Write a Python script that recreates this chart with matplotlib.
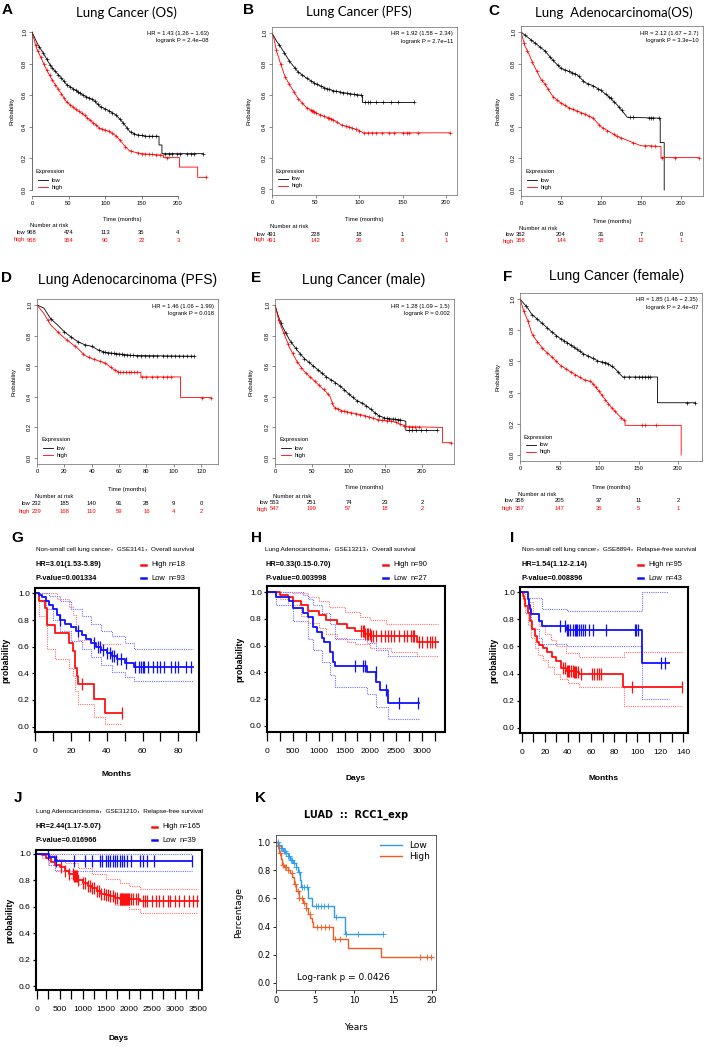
import numpy as np
import matplotlib
matplotlib.use('Agg')
import matplotlib.pyplot as plt
from matplotlib.lines import Line2D
from matplotlib import font_manager

W, H = 709, 1047

# ---------------- KM-plotter panels A-F (months) ----------------
# A  Lung Cancer (OS)
a_low_t = [0, 3, 6, 10, 15, 20, 25, 30, 40, 47, 60, 70, 84, 93, 106, 115, 124, 134, 143, 157, 174, 174, 178, 178, 234]
a_low_s = [1, .97, .94, .905, .87, .83, .79, .76, .71, .67, .63, .60, .57, .53, .50, .475, .43, .37, .35, .34, .34, .285, .285, .23, .23]
a_low_c = [10, 15, 20, 25, 28, 32, 36, 40, 44, 48, 52, 56, 60, 63, 66, 70, 74, 78, 82, 86, 90, 95, 100, 105, 110,
           115, 120, 125, 130, 135, 140, 145, 150, 155, 160, 165, 170, 182, 188, 192, 198, 203, 212, 218, 222, 234]
a_high_t = [0, 3, 6, 10, 15, 20, 26, 30, 40, 47, 60, 70, 80, 93, 106, 116, 125, 133, 140, 150, 180, 180, 202, 202, 227, 227, 239]
a_high_s = [1, .95, .90, .86, .81, .76, .71, .68, .61, .56, .51, .48, .44, .39, .37, .34, .29, .25, .24, .23, .22, .205, .205, .145, .145, .08, .08]
a_high_c = [5, 8, 12, 16, 20, 24, 28, 32, 36, 40, 44, 48, 52, 56, 60, 64, 68, 72, 76, 80, 84, 88, 92, 96, 100, 105,
            110, 115, 120, 128, 135, 145, 150, 155, 160, 165, 170, 175, 185, 239]
a_nar_low = [968, 474, 113, 35, 4]
a_nar_high = [958, 354, 90, 22, 3]

# B  Lung Cancer (PFS)
b_low_t = [0, 2, 5, 10, 20, 30, 40, 50, 60, 70, 80, 90, 104, 104, 163]
b_low_s = [1, .98, .95, .91, .82, .75, .71, .675, .65, .63, .62, .61, .60, .555, .555]
b_low_c = [8, 14, 20, 26, 30, 35, 40, 45, 48, 52, 56, 60, 63, 66, 70, 74, 78, 82, 86, 90, 94, 98, 102, 107, 110,
           113, 120, 128, 137, 145, 163]
b_high_t = [0, 2, 5, 10, 15, 20, 30, 40, 50, 60, 70, 80, 90, 100, 105, 205]
b_high_s = [1, .97, .89, .80, .72, .67, .58, .52, .49, .465, .445, .41, .395, .375, .36, .36]
b_high_c = [5, 10, 15, 20, 25, 30, 35, 40, 45, 46, 47, 48, 50, 55, 60, 64, 66, 68, 70, 75, 80, 85, 88, 92, 96, 100,
            106, 110, 115, 120, 127, 135, 140, 150, 155, 158, 168, 205]
b_nar_low = [491, 228, 18, 1, 0]
b_nar_high = [491, 142, 26, 8, 1]

# C  Lung Adenocarcinoma (OS)
c_low_t = [0, 10, 20, 30, 40, 50, 60, 70, 80, 90, 100, 110, 120, 125, 133, 174, 174, 179, 179]
c_low_s = [1, .96, .92, .88, .82, .77, .75, .73, .68, .66, .63, .59, .54, .51, .46, .455, .30, .30, 0]
c_low_c = [5, 12, 18, 24, 30, 36, 40, 46, 50, 55, 60, 64, 68, 72, 78, 84, 90, 96, 100, 106, 110, 112, 116, 122, 126,
           136, 140, 160, 162, 165, 173]
c_high_t = [0, 5, 10, 15, 20, 25, 30, 40, 50, 60, 70, 80, 90, 100, 110, 120, 130, 140, 150, 160, 175, 175, 222]
c_high_s = [1, .91, .86, .80, .75, .70, .67, .59, .55, .52, .50, .48, .455, .40, .37, .34, .32, .30, .28, .28, .275, .205, .205]
c_high_c = [4, 8, 14, 20, 26, 30, 34, 40, 45, 50, 55, 60, 65, 70, 75, 80, 85, 90, 98, 102, 108, 116, 120, 125, 140,
            155, 162, 168, 176, 193, 222]
c_nar_low = [362, 204, 31, 7, 0]
c_nar_high = [358, 144, 38, 12, 1]

# D  Lung Adenocarcinoma (PFS)
d_low_t = [0, 5, 10, 15, 20, 25, 30, 35, 40, 45, 50, 60, 70, 115]
d_low_s = [1, .98, .91, .87, .825, .79, .76, .74, .73, .705, .69, .68, .67, .665]
d_low_c = [10, 20, 25, 30, 35, 40, 45, 48, 50, 52, 54, 56, 58, 60, 62, 64, 66, 68, 70, 73, 76, 79, 82, 85, 88, 92,
           95, 98, 101, 104, 107, 110, 113, 115]
d_high_t = [0, 5, 10, 15, 20, 25, 30, 35, 40, 45, 50, 55, 60, 76, 76, 105, 105, 127]
d_high_s = [1, .945, .87, .825, .785, .75, .715, .67, .65, .635, .62, .585, .56, .56, .53, .53, .395, .395]
d_high_c = [8, 15, 22, 28, 34, 38, 42, 46, 50, 54, 57, 59, 61, 63, 65, 67, 69, 71, 73, 77, 80, 84, 88, 92, 95, 98,
            121, 127]
d_nar_low = [232, 185, 140, 91, 28, 9, 0]
d_nar_high = [229, 168, 110, 59, 16, 4, 2]

# E  Lung Cancer (male)
e_low_t = [0, 5, 10, 20, 30, 40, 50, 60, 70, 80, 90, 100, 110, 120, 130, 140, 150, 170, 178, 178, 220]
e_low_s = [1, .92, .86, .77, .705, .65, .61, .57, .53, .50, .465, .42, .38, .355, .32, .28, .26, .25, .24, .18, .18]
e_low_c = [8, 15, 22, 28, 34, 40, 46, 52, 58, 64, 70, 76, 82, 88, 94, 100, 106, 112, 118, 124, 130, 136, 142, 148,
           152, 155, 160, 163, 167, 170, 182, 186, 192, 198, 205, 220]
e_high_t = [0, 5, 10, 20, 30, 40, 50, 60, 70, 75, 80, 90, 100, 120, 140, 160, 180, 228, 228, 240]
e_high_s = [1, .90, .84, .72, .63, .565, .52, .475, .43, .40, .335, .31, .30, .28, .25, .24, .205, .20, .10, .10]
e_high_c = [5, 12, 18, 24, 30, 36, 42, 48, 54, 60, 66, 72, 78, 82, 86, 90, 94, 98, 104, 110, 116, 122, 128, 134,
            140, 146, 152, 158, 164, 170, 176, 182, 186, 190, 196, 240]
e_nar_low = [553, 251, 74, 23, 2]
e_nar_high = [547, 199, 57, 18, 2]

# F  Lung Cancer (female)
f_low_t = [0, 5, 10, 15, 20, 30, 40, 50, 60, 70, 80, 90, 100, 110, 120, 130, 174, 174, 222]
f_low_s = [1, .97, .94, .90, .88, .835, .79, .75, .72, .685, .65, .625, .60, .59, .555, .50, .50, .335, .335]
f_low_c = [8, 15, 22, 28, 34, 40, 46, 52, 56, 60, 64, 68, 72, 76, 80, 86, 92, 98, 104, 108, 112, 116, 124, 132,
           138, 145, 150, 155, 158, 162, 165, 212, 222]
f_high_t = [0, 5, 10, 15, 20, 30, 40, 50, 60, 70, 80, 90, 95, 100, 110, 120, 130, 133, 133, 204, 204]
f_high_s = [1, .92, .86, .78, .74, .675, .63, .58, .545, .515, .485, .47, .44, .41, .34, .28, .23, .22, .19, .19, 0]
f_high_c = [5, 10, 16, 22, 28, 34, 40, 46, 52, 58, 64, 70, 76, 82, 88, 92, 96, 100, 104, 108, 112, 116, 120, 128,
            132, 155, 158, 172]
f_nar_low = [358, 205, 37, 11, 2]
f_nar_high = [357, 147, 35, 5, 1]

# ---------------- PrognoScan panels G-J (step functions) ----------------
g_high_t = [0, 2, 5.5, 6.5, 11, 19, 21, 22.5, 23.3, 24.2, 33, 39, 48.6]
g_high_s = [1, .94, .89, .76, .70, .63, .57, .44, .38, .32, .21, .105, .105]
g_high_up_t = [0, 12, 19, 21, 23, 24.2, 33, 48.6]
g_high_up_s = [1, .96, .90, .84, .74, .65, .62, .62]
g_high_lo_t = [0, 2, 6.5, 11, 19, 21, 22.5, 24.2, 33, 39, 48.6]
g_high_lo_s = [1, .83, .58, .51, .44, .38, .27, .17, .07, .02, .02]
g_high_c = [26.3, 48.6]
g_low_t = [0, 2, 4, 6, 8, 10, 12, 14, 17, 20, 23, 26, 28.5, 31, 34, 37, 40, 43, 46, 50, 55, 88]
g_low_s = [1, .99, .97, .94, .91, .88, .84, .80, .77, .75, .72, .69, .66, .63, .60, .575, .55, .53, .51, .48, .45, .45]
g_low_up_t = [0, 8, 14, 20, 26, 31, 37, 43, 50, 55, 88]
g_low_up_s = [1, .98, .94, .88, .83, .77, .72, .68, .63, .58, .58]
g_low_lo_t = [0, 2, 6, 10, 14, 20, 26, 31, 37, 43, 50, 55, 88]
g_low_lo_s = [1, .95, .88, .80, .72, .64, .58, .52, .46, .41, .37, .34, .34]
g_low_c = [14, 24, 33, 35, 36, 38, 40, 42, 43, 44, 46, 48, 51, 56, 58, 59, 60, 61, 63, 66, 68, 70, 72, 76, 78, 80, 84, 87]

h_high_t = [0, 260, 400, 500, 650, 800, 1000, 1150, 1350, 1550, 1700, 1900, 2000, 2900, 3300]
h_high_s = [1, .98, .96, .93, .90, .86, .83, .79, .76, .73, .71, .69, .675, .63, .63]
h_high_up_t = [0, 500, 800, 1000, 1200, 1500, 1800, 2000, 2300, 3300]
h_high_up_s = [1, .99, .96, .93, .89, .85, .81, .79, .76, .76]
h_high_lo_t = [0, 260, 400, 650, 800, 1000, 1150, 1350, 1550, 1700, 2000, 2400, 2900, 3300]
h_high_lo_s = [1, .95, .90, .82, .77, .73, .69, .66, .63, .61, .58, .55, .52, .52]
h_high_c = [1820, 1850, 1880, 1900, 1930, 1960, 1990, 2020, 2050, 2100, 2200, 2280, 2350, 2400, 2450, 2550, 2650,
            2700, 2780, 2820, 2850, 2950, 3000, 3100, 3150, 3200, 3250]
h_low_t = [0, 180, 420, 500, 700, 790, 890, 960, 1070, 1110, 1210, 1280, 1320, 1930, 2115, 2180, 2340, 2950]
h_low_s = [1, .96, .93, .88, .84, .81, .74, .70, .66, .63, .55, .48, .45, .40, .33, .27, .17, .17]
h_low_up_t = [0, 700, 790, 890, 1070, 1210, 1320, 1930, 2115, 2340, 2950]
h_low_up_s = [1, .98, .95, .90, .84, .76, .65, .62, .57, .52, .52]
h_low_lo_t = [0, 180, 500, 790, 890, 1070, 1210, 1320, 1930, 2115, 2340, 2950]
h_low_lo_s = [1, .90, .78, .65, .57, .48, .38, .29, .24, .14, .05, .05]
h_low_c = [1700, 1850, 1900, 2100, 2300, 2550, 2930]

i_high_t = [0, 1, 2, 3, 5, 7, 9, 11, 13, 15, 18, 22, 26, 30, 34, 38, 45, 50, 88, 139]
i_high_s = [1, .97, .95, .90, .85, .79, .73, .68, .63, .61, .59, .56, .52, .49, .44, .42, .41, .40, .30, .30]
i_high_up_t = [0, 2, 5, 10, 15, 20, 25, 30, 38, 50, 89, 139]
i_high_up_s = [1, .99, .93, .85, .75, .69, .65, .60, .55, .52, .56, .56]
i_high_lo_t = [0, 3, 5, 8, 11, 14, 18, 23, 28, 33, 40, 50, 89, 139]
i_high_lo_s = [1, .85, .76, .66, .59, .54, .50, .45, .40, .36, .33, .30, .16, .16]
i_high_c = [36, 37, 39, 40, 41, 43, 44, 45, 46, 47, 49, 51, 61, 63, 65, 67, 69, 96, 139]
i_low_t = [0, 5, 6, 7, 8, 15, 17, 38, 104, 128]
i_low_s = [1, .95, .91, .88, .84, .79, .75, .72, .48, .48]
i_low_up_t = [0, 4, 17, 39, 104, 127]
i_low_up_s = [1, .96, .88, .86, 1.0, 1.0]
i_low_lo_t = [0, 5, 8, 15, 17, 39, 104, 128]
i_low_lo_s = [1, .86, .73, .66, .62, .60, .21, .21]
i_low_c = [33, 37, 39, 40, 42, 44, 46, 47, 48, 50, 51, 53, 55, 58, 62, 73, 98, 99, 101, 121, 124]

j_high_t = [0, 100, 200, 300, 400, 500, 600, 700, 800, 900, 1000, 1100, 1200, 1300, 1400, 1500, 1600, 1700, 1800, 2250, 3500]
j_high_s = [1, .99, .97, .94, .92, .90, .87, .85, .83, .80, .78, .76, .74, .72, .70, .69, .68, .67, .66, .645, .645]
j_high_up_t = [0, 200, 400, 600, 900, 1200, 1500, 1800, 2000, 2250, 3500]
j_high_up_s = [1, .99, .96, .93, .89, .85, .81, .78, .76, .735, .735]
j_high_lo_t = [0, 100, 250, 400, 700, 900, 1100, 1400, 1700, 2000, 2250, 3500]
j_high_lo_s = [1, .97, .92, .88, .82, .77, .72, .66, .61, .58, .555, .555]
j_high_c = [520, 600, 700, 780, 800, 820, 850, 870, 900, 1000, 1050, 1100, 1150, 1200, 1250, 1300, 1350, 1400, 1450,
            1500, 1550, 1600, 1650, 1700, 1750, 1800, 1820, 1840, 1860, 1880, 1900, 1920, 1940, 1960, 1980, 2000,
            2050, 2100, 2150, 2200, 2300, 2350, 2400, 2500, 2600, 2650, 2750, 2850, 2900, 3000, 3100, 3200, 3300,
            3400, 3480]
j_low_t = [0, 260, 400, 3370]
j_low_s = [1, .975, .95, .95]
j_low_up_t = [0, 3370]
j_low_up_s = [1, 1]
j_low_lo_t = [0, 260, 400, 3370]
j_low_lo_s = [1, .92, .87, .87]
j_low_c = [250, 420, 800, 1050, 1200, 1370, 1420, 1500, 1550, 1600, 1650, 1700, 1750, 1800, 1850, 1900, 1950, 2050,
           2250, 2300, 2400, 2550, 3370]

# ---------------- K  LUAD :: RCC1_exp (years) ----------------
k_low_t = [0, .3, .6, .9, 1.2, 1.5, 1.8, 2.2, 2.6, 2.8, 3.1, 3.2, 4.1, 4.6, 7.4, 8.8, 13.7]
k_low_s = [1, .98, .96, .94, .92, .90, .87, .85, .82, .79, .73, .68, .60, .545, .47, .35, .35]
k_low_c = [.2, .4, .6, .8, 1.0, 1.1, 1.3, 1.5, 1.7, 1.9, 2.1, 2.3, 2.6, 2.9, 3.3, 3.6, 4.0, 5.1, 5.4, 5.8, 6.2, 6.6,
           7.7, 9.0, 10.5, 13.7]
k_high_t = [0, .2, .4, .6, .8, 1.0, 1.5, 1.8, 2.1, 2.3, 2.6, 2.9, 3.4, 3.8, 4.1, 4.4, 4.6, 4.8, 7.3, 9.2, 13.5, 20.1]
k_high_s = [1, .97, .92, .88, .84, .82, .80, .78, .75, .70, .65, .60, .565, .53, .49, .46, .43, .40, .31, .245, .185, .185]
k_high_c = [.3, .5, .9, 1.1, 1.3, 1.6, 2.0, 2.4, 2.8, 3.0, 3.3, 3.6, 3.9, 4.3, 5.3, 5.8, 6.3, 6.8, 7.6, 8.2, 18.5,
            19.3, 19.8]

prob_ticks = [0.0, 0.2, 0.4, 0.6, 0.8, 1.0]

# ---------------- figure helpers ----------------
fig = plt.figure(figsize=(W / 100, H / 100), dpi=100)
installed = {f.name for f in font_manager.fontManager.ttflist}
NARROW = 'Liberation Sans Narrow' if 'Liberation Sans Narrow' in installed else 'Liberation Sans'
RF = 'Liberation Sans'


def px_axes(l, t, r, b):
    return fig.add_axes([l / W, 1 - b / H, (r - l) / W, (b - t) / H])


def ftext(x, y, s, **kw):
    kw.setdefault('ha', 'center')
    kw.setdefault('va', 'center')
    return fig.text(x / W, 1 - y / H, s, **kw)


def fline(x0, x1, y, **kw):
    fig.add_artist(Line2D([x0 / W, x1 / W], [1 - y / H] * 2, **kw))


def step_val(t, s, c):
    idx = np.searchsorted(t, c, side='right') - 1
    return np.asarray(s)[idx]


def kmplot_panel(x0, xr, scale, y1, y0, xticks, low, high, nar, hr, p, rows, ylab_x, box=True):
    pad = 0.04 * (y0 - y1)
    ax = px_axes(x0, y1 - pad, xr, y0 + pad)
    ax.set_xlim(0, (xr - x0) / scale)
    ax.set_ylim(-0.04, 1.04)
    for (t, s, c), col in ((low, 'black'), (high, 'red')):
        ax.plot(t, s, color=col, lw=0.6)
        ax.plot(c, np.interp(c, t, s), ls='none', marker='+', ms=3.0, mew=0.45, color=col, clip_on=False)
    ax.set_xticks(xticks)
    ax.set_yticks(prob_ticks)
    ax.set_yticklabels([f'{v:.1f}' for v in prob_ticks], rotation=90, va='center')
    ax.tick_params(labelsize=4.2, length=2, width=0.4, pad=1.5, color='#333333')
    for lab in ax.get_xticklabels() + ax.get_yticklabels():
        lab.set_family(RF)
    for sp in ax.spines.values():
        sp.set_linewidth(0.5)
        sp.set_color('#666666')
    if not box:
        # plain R axes: lines only over the tick range, no frame
        ax.spines['top'].set_visible(False)
        ax.spines['right'].set_visible(False)
        ax.spines['left'].set_bounds(0, 1)
        ax.spines['bottom'].set_bounds(xticks[0], xticks[-1])
        ax.spines['left'].set_color('#333333')
        ax.spines['bottom'].set_color('#333333')
    # HR text
    ftext(xr - 4, y1 + 1, hr, ha='right', fontsize=4.2, family=RF)
    ftext(xr - 4, y1 + 8.5, p, ha='right', fontsize=4.2, family=RF)
    # legend
    ftext(x0 + 4, y0 - 18, 'Expression', ha='left', fontsize=4.2, family=RF)
    fline(x0 + 6, x0 + 16, y0 - 10, color='black', lw=0.6)
    fline(x0 + 6, x0 + 16, y0 - 3, color='red', lw=0.6)
    ftext(x0 + 20, y0 - 10, 'low', ha='left', fontsize=4.2, family=RF)
    ftext(x0 + 20, y0 - 3, 'high', ha='left', fontsize=4.2, family=RF)
    # axis labels
    ftext((x0 + xr) / 2, rows[0], 'Time (months)', fontsize=4.3, family=RF)
    ftext(ylab_x, (y1 + y0) / 2, 'Probability', rotation=90, fontsize=4.3, family=RF)
    # number at risk
    ftext(x0 - 2, rows[1], 'Number at risk', ha='left', fontsize=4.2, family=RF)
    ftext(x0 - 7, rows[2], 'low', ha='right', fontsize=4.2, family=RF)
    ftext(x0 - 7, rows[3], 'high', ha='right', fontsize=4.2, family=RF, color='red')
    for tk, nl, nh in zip(xticks, nar[0], nar[1]):
        ftext(x0 + tk * scale, rows[2], str(nl), fontsize=4.2, family=RF)
        ftext(x0 + tk * scale, rows[3], str(nh), fontsize=4.2, family=RF, color='red')
    return ax


def prognoscan_panel(box, xlim, ylim, xticks, xminor, high, low, title, text_x, top_y, hr, pv, nh, nl, leg_x,
                     xlabel, xlabel_y, ylab_x):
    l, t, r, b = box
    ax = px_axes(l, t, r, b)
    ax.set_xlim(*xlim)
    ax.set_ylim(*ylim)
    styles = ((high, '#ff1010', '#ff7070'), (low, '#1010ff', '#7070ff'))
    for (ct, cs, ut, us, lt, ls_, cens), col, cicol in styles:
        ax.plot(ut, us, drawstyle='steps-post', color=cicol, lw=0.8, ls=(0, (1, 1)))
        ax.plot(lt, ls_, drawstyle='steps-post', color=cicol, lw=0.8, ls=(0, (1, 1)))
    for (ct, cs, ut, us, lt, ls_, cens), col, cicol in styles:
        ax.plot(ct, cs, drawstyle='steps-post', color=col, lw=1.3)
        ax.plot(cens, step_val(ct, cs, cens), ls='none', marker='|', ms=8, mew=0.9, color=col)
    ax.set_xticks(xticks)
    ax.set_xticks(xminor, minor=True)
    ax.set_yticks(prob_ticks)
    ax.set_yticklabels([f'{v:.1f}' for v in prob_ticks])
    ax.tick_params(axis='x', which='both', length=6.5, width=0.9, pad=5, labelsize=6.0)
    ax.tick_params(axis='y', length=2.5, width=0.9, pad=1.2, labelsize=6.0)
    for lab in ax.get_xticklabels() + ax.get_yticklabels():
        lab.set_family(NARROW)
    for sp in ax.spines.values():
        sp.set_linewidth(1.5)
    fam = [NARROW, 'Noto Sans CJK SC']
    ftext(text_x, top_y, title, ha='left', fontsize=4.6, family=fam)
    ftext(text_x, top_y + 15, hr, ha='left', fontsize=5.3, family=fam, weight='bold')
    ftext(text_x, top_y + 28, pv, ha='left', fontsize=5.3, family=fam, weight='bold')
    fline(leg_x - 2.5, leg_x + 2.5, top_y + 15, color='#ff1010', lw=1.8)
    fline(leg_x - 2.5, leg_x + 2.5, top_y + 28, color='#1010ff', lw=1.8)
    ftext(leg_x + 8, top_y + 15, 'High', ha='left', fontsize=5.4, family=fam)
    ftext(leg_x + 8, top_y + 28, 'Low', ha='left', fontsize=5.4, family=fam)
    ftext(leg_x + 26, top_y + 15, f'n={nh}', ha='left', fontsize=5.4, family=fam)
    ftext(leg_x + 26, top_y + 28, f'n={nl}', ha='left', fontsize=5.4, family=fam)
    ftext((l + r) / 2, xlabel_y, xlabel, fontsize=6.0, family=NARROW, weight='bold')
    ftext(ylab_x, (t + b) / 2, 'probability', rotation=90, fontsize=6.3, family=RF, weight='bold')
    return ax


# ---------------- panels A-F ----------------
mticks200 = [0, 50, 100, 150, 200]
kmplot_panel(32, 213, 0.73, 32, 190, mticks200, (a_low_t, a_low_s, a_low_c), (a_high_t, a_high_s, a_high_c),
             (a_nar_low, a_nar_high), 'HR = 1.43 (1.26 \u2212 1.63)', 'logrank P = 2.4e\u221208',
             (219, 226, 233, 240), 12, box=False)
kmplot_panel(272, 457, 0.87, 33, 189, mticks200, (b_low_t, b_low_s, b_low_c), (b_high_t, b_high_s, b_high_c),
             (b_nar_low, b_nar_high), 'HR = 1.92 (1.58 \u2212 2.34)', 'logrank P = 2.7e\u221211',
             (220, 227, 234, 240), 249)
kmplot_panel(521, 703, 0.8, 32, 190, mticks200, (c_low_t, c_low_s, c_low_c), (c_high_t, c_high_s, c_high_c),
             (c_nar_low, c_nar_high), 'HR = 2.12 (1.67 \u2212 2.7)', 'logrank P = 3.3e\u221210',
             (221, 229, 235, 241), 498)
kmplot_panel(37, 218, 1.367, 305, 458, [0, 20, 40, 60, 80, 100, 120], (d_low_t, d_low_s, d_low_c),
             (d_high_t, d_high_s, d_high_c), (d_nar_low, d_nar_high), 'HR = 1.46 (1.06 \u2212 1.99)',
             'logrank P = 0.018', (490, 497, 504, 511), 14)
kmplot_panel(275, 454, 0.735, 305, 458, mticks200, (e_low_t, e_low_s, e_low_c), (e_high_t, e_high_s, e_high_c),
             (e_nar_low, e_nar_high), 'HR = 1.28 (1.09 \u2212 1.5)', 'logrank P = 0.002',
             (488, 496, 503, 509), 251)
kmplot_panel(520, 702, 0.79, 299, 455, mticks200, (f_low_t, f_low_s, f_low_c), (f_high_t, f_high_s, f_high_c),
             (f_nar_low, f_nar_high), 'HR = 1.85 (1.46 \u2212 2.35)', 'logrank P = 2.4e\u221207',
             (487, 494, 501, 508), 498)

ftext(126, 13, 'Lung Cancer (OS)', fontsize=9.5, family='Lato')
ftext(359, 12, 'Lung Cancer (PFS)', fontsize=9.5, family='Lato')
ftext(614, 13, 'Lung  Adenocarcinoma(OS)', fontsize=9.5, family='Lato')
ftext(128, 280, 'Lung Adenocarcinoma (PFS)', fontsize=10, family=RF)
ftext(364, 280, 'Lung Cancer (male)', fontsize=10, family=RF)
ftext(617, 276, 'Lung Cancer (female)', fontsize=10, family=RF)

# ---------------- panels G-J ----------------
prognoscan_panel((35, 588, 199, 732), (0, 91.5), (-0.04, 1.04), [0, 20, 40, 60, 80], [10, 30, 50, 70, 90],
                 (g_high_t, g_high_s, g_high_up_t, g_high_up_s, g_high_lo_t, g_high_lo_s, g_high_c),
                 (g_low_t, g_low_s, g_low_up_t, g_low_up_s, g_low_lo_t, g_low_lo_s, g_low_c),
                 'Non-small cell lung cancer\uff0cGSE3141\uff0cOverall survival', 36, 550,
                 'HR=3.01(1.53-5.89)', 'P-value=0.001334', 18, 93, 143, 'Months', 775, 6)
prognoscan_panel((267, 586, 445, 732), (0, 3445), (-0.045, 1.045), [0, 500, 1000, 1500, 2000, 2500, 3000],
                 [250, 750, 1250, 1750, 2250, 2750, 3250],
                 (h_high_t, h_high_s, h_high_up_t, h_high_up_s, h_high_lo_t, h_high_lo_s, h_high_c),
                 (h_low_t, h_low_s, h_low_up_t, h_low_up_s, h_low_lo_t, h_low_lo_s, h_low_c),
                 'Lung Adenocarcinoma\uff0cGSE13213\uff0cOverall survival', 265, 550,
                 'HR=0.33(0.15-0.70)', 'P-value=0.003998', 90, 27, 385, 'Days', 778, 240)
prognoscan_panel((520, 587, 688, 733), (-1.7, 144.3), (-0.04, 1.04), [0, 20, 40, 60, 80, 100, 120, 140],
                 [10, 30, 50, 70, 90, 110, 130],
                 (i_high_t, i_high_s, i_high_up_t, i_high_up_s, i_high_lo_t, i_high_lo_s, i_high_c),
                 (i_low_t, i_low_s, i_low_up_t, i_low_up_s, i_low_lo_t, i_low_lo_s, i_low_c),
                 'Non-small cell lung cancer\uff0cGSE8894\uff0cRelapse-free survival', 522, 550,
                 'HR=1.54(1.12-2.14)', 'P-value=0.008896', 95, 43, 640, 'Months', 778, 494)
prognoscan_panel((36, 850, 202, 990), (-20, 3590), (-0.03, 1.03), [0, 500, 1000, 1500, 2000, 2500, 3000, 3500],
                 [250, 750, 1250, 1750, 2250, 2750, 3250],
                 (j_high_t, j_high_s, j_high_up_t, j_high_up_s, j_high_lo_t, j_high_lo_s, j_high_c),
                 (j_low_t, j_low_s, j_low_up_t, j_low_up_s, j_low_lo_t, j_low_lo_s, j_low_c),
                 'Lung Adenocarcinoma\uff0cGSE31210\uff0cRelapse-free survival', 36, 812,
                 'HR=2.44(1.17-5.07)', 'P-value=0.016966', 165, 39, 154, 'Days', 1039, 10)

# ---------------- panel K ----------------
KBLUE, KORANGE = '#2b9cf2', '#f25a1e'
axk = px_axes(276, 835, 436, 990)
axk.set_xlim(0, 20.5)
axk.set_ylim(-0.05, 1.05)
axk.plot(k_low_t, k_low_s, drawstyle='steps-post', color=KBLUE, lw=1.0, label='Low')
axk.plot(k_high_t, k_high_s, drawstyle='steps-post', color=KORANGE, lw=1.0, label='High')
axk.plot(k_low_c, step_val(k_low_t, k_low_s, k_low_c), ls='none', marker='+', ms=4, mew=0.6, color=KBLUE)
axk.plot(k_high_c, step_val(k_high_t, k_high_s, k_high_c), ls='none', marker='+', ms=4, mew=0.6, color=KORANGE)
axk.set_xticks([0, 5, 10, 15, 20])
axk.set_yticks(prob_ticks)
axk.set_yticklabels([f'{v:.1f}' for v in prob_ticks])
axk.tick_params(labelsize=6, length=2.5, width=0.6, pad=1.5)
for sp in axk.spines.values():
    sp.set_linewidth(0.6)
    sp.set_color('#444444')
axk.legend(loc='upper right', frameon=False, fontsize=6.5, handlelength=2.4, borderaxespad=0.3,
           handletextpad=0.8, labelspacing=0.2)
ftext(343, 977, 'Log-rank p = 0.0426', fontsize=6.5)
ftext(356, 1027, 'Years', fontsize=6.5)
ftext(239, 912, 'Percentage', rotation=90, fontsize=6.5)
ftext(356, 815, 'LUAD  ::  RCC1_exp', fontsize=7, weight='bold')

# ---------------- panel letters ----------------
letters = ['A', 'B', 'C', 'D', 'E', 'F', 'G', 'H', 'I', 'J', 'K']
letter_xy = [(7, 10), (249, 10), (494, 11), (7, 278), (256, 278), (508, 277),
             (17, 538), (256, 538), (512, 538), (18, 798), (261, 798)]
for ch, (lx, ly) in zip(letters, letter_xy):
    ftext(lx, ly, ch, fontsize=11, weight='bold', family=RF)

fig.savefig('out.png', dpi=100)
